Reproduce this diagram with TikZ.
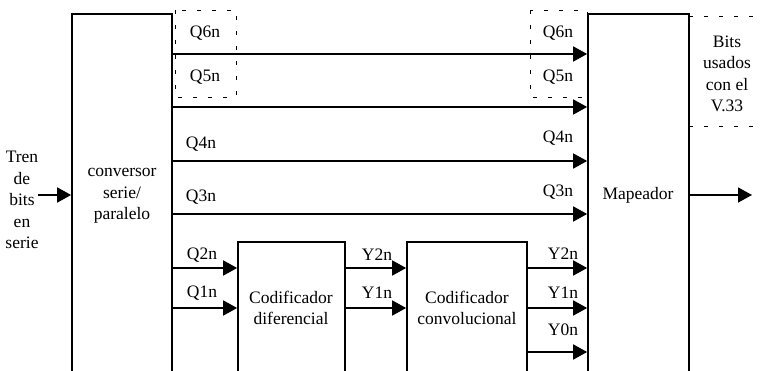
\documentclass[tikz,border=0pt]{standalone}
\usepackage{fontspec}
\newfontfamily\tmsfont{Liberation Serif}
\usetikzlibrary{arrows.meta}
\begin{document}
\begin{tikzpicture}[x=1pt,y=-1pt,
  blk/.style={draw,line width=1.7pt,rectangle,inner sep=0pt},
  arr/.style={line width=1.7pt,-{Triangle[length=14pt,width=15pt]}},
  dsh/.style={line width=0.8pt,dash pattern=on 4pt off 11pt},
  lbl/.style={inner sep=0pt,align=center,font=\tmsfont\fontsize{17.5}{21.5}\selectfont}]
\useasboundingbox (0,0) rectangle (761,371);
% blocks
\node[blk,minimum width=100pt,minimum height=364pt] (conv) at (122,196) {};
\node[blk,minimum width=101pt,minimum height=362pt] (map) at (638.5,195) {};
\node[blk,minimum width=107pt,minimum height=132pt] (dif) at (291.5,308) {};
\node[blk,minimum width=120pt,minimum height=132pt] (cnv) at (467,308) {};
% block labels
\node[lbl] (convt) at (122,196) {conversor\\serie/\\paralelo};
\node[lbl] (mapt) at (638,195) {Mapeador};
\node[lbl] (dift) at (291,308) {Codificador\\diferencial};
\node[lbl] (cnvt) at (467,308) {Codificador\\convolucional};
\node[lbl] (tren) at (22,200) {Tren\\de\\bits\\en\\serie};
\node[lbl] (bits) at (727,74) {Bits\\usados\\con el\\V.33};
% dashed boxes
\draw[dsh] (175,10) rectangle (236,97);
\draw[dsh] (530,10) rectangle (587,97);
\draw[dsh] (689,16) -- (757,16);
\draw[dsh] (689,126) -- (757,126);
% input / output
\coordinate (inp) at (38,195);
\coordinate (outp) at (752,195);
\draw[arr] (inp) -- (conv.west|-inp);
\draw[arr] (map.east|-outp) -- (outp);
% parallel lines
\foreach \yy/\nm in {54/a,107/b,161/c,214/d}{
  \coordinate (l\nm) at (0,\yy);
  \draw[arr] (conv.east|-l\nm) -- (map.west|-l\nm);
}
\coordinate (q2) at (0,268);
\coordinate (q1) at (0,308);
\coordinate (y0) at (0,352);
\draw[arr] (conv.east|-q2) -- (dif.west|-q2);
\draw[arr] (conv.east|-q1) -- (dif.west|-q1);
\draw[arr] (dif.east|-q2) -- (cnv.west|-q2);
\draw[arr] (dif.east|-q1) -- (cnv.west|-q1);
\draw[arr] (cnv.east|-q2) -- (map.west|-q2);
\draw[arr] (cnv.east|-q1) -- (map.west|-q1);
\draw[arr] (cnv.east|-y0) -- (map.west|-y0);
% signal labels
\node[lbl] (q6l) at (205,33) {Q6n};
\node[lbl] (q5l) at (205,77) {Q5n};
\node[lbl] (q6r) at (558,33) {Q6n};
\node[lbl] (q5r) at (558,77) {Q5n};
\node[lbl] (q4l) at (201,144) {Q4n};
\node[lbl] (q3l) at (201,197) {Q3n};
\node[lbl] (q4r) at (558,138) {Q4n};
\node[lbl] (q3r) at (558,192) {Q3n};
\node[lbl] (q2t) at (202,255) {Q2n};
\node[lbl] (q1t) at (202,293) {Q1n};
\node[lbl] (y2a) at (377,255) {Y2n};
\node[lbl] (y1a) at (377,293) {Y1n};
\node[lbl] (y2b) at (563,254) {Y2n};
\node[lbl] (y1b) at (563,293) {Y1n};
\node[lbl] (y0b) at (563,330) {Y0n};
\end{tikzpicture}
\end{document}
